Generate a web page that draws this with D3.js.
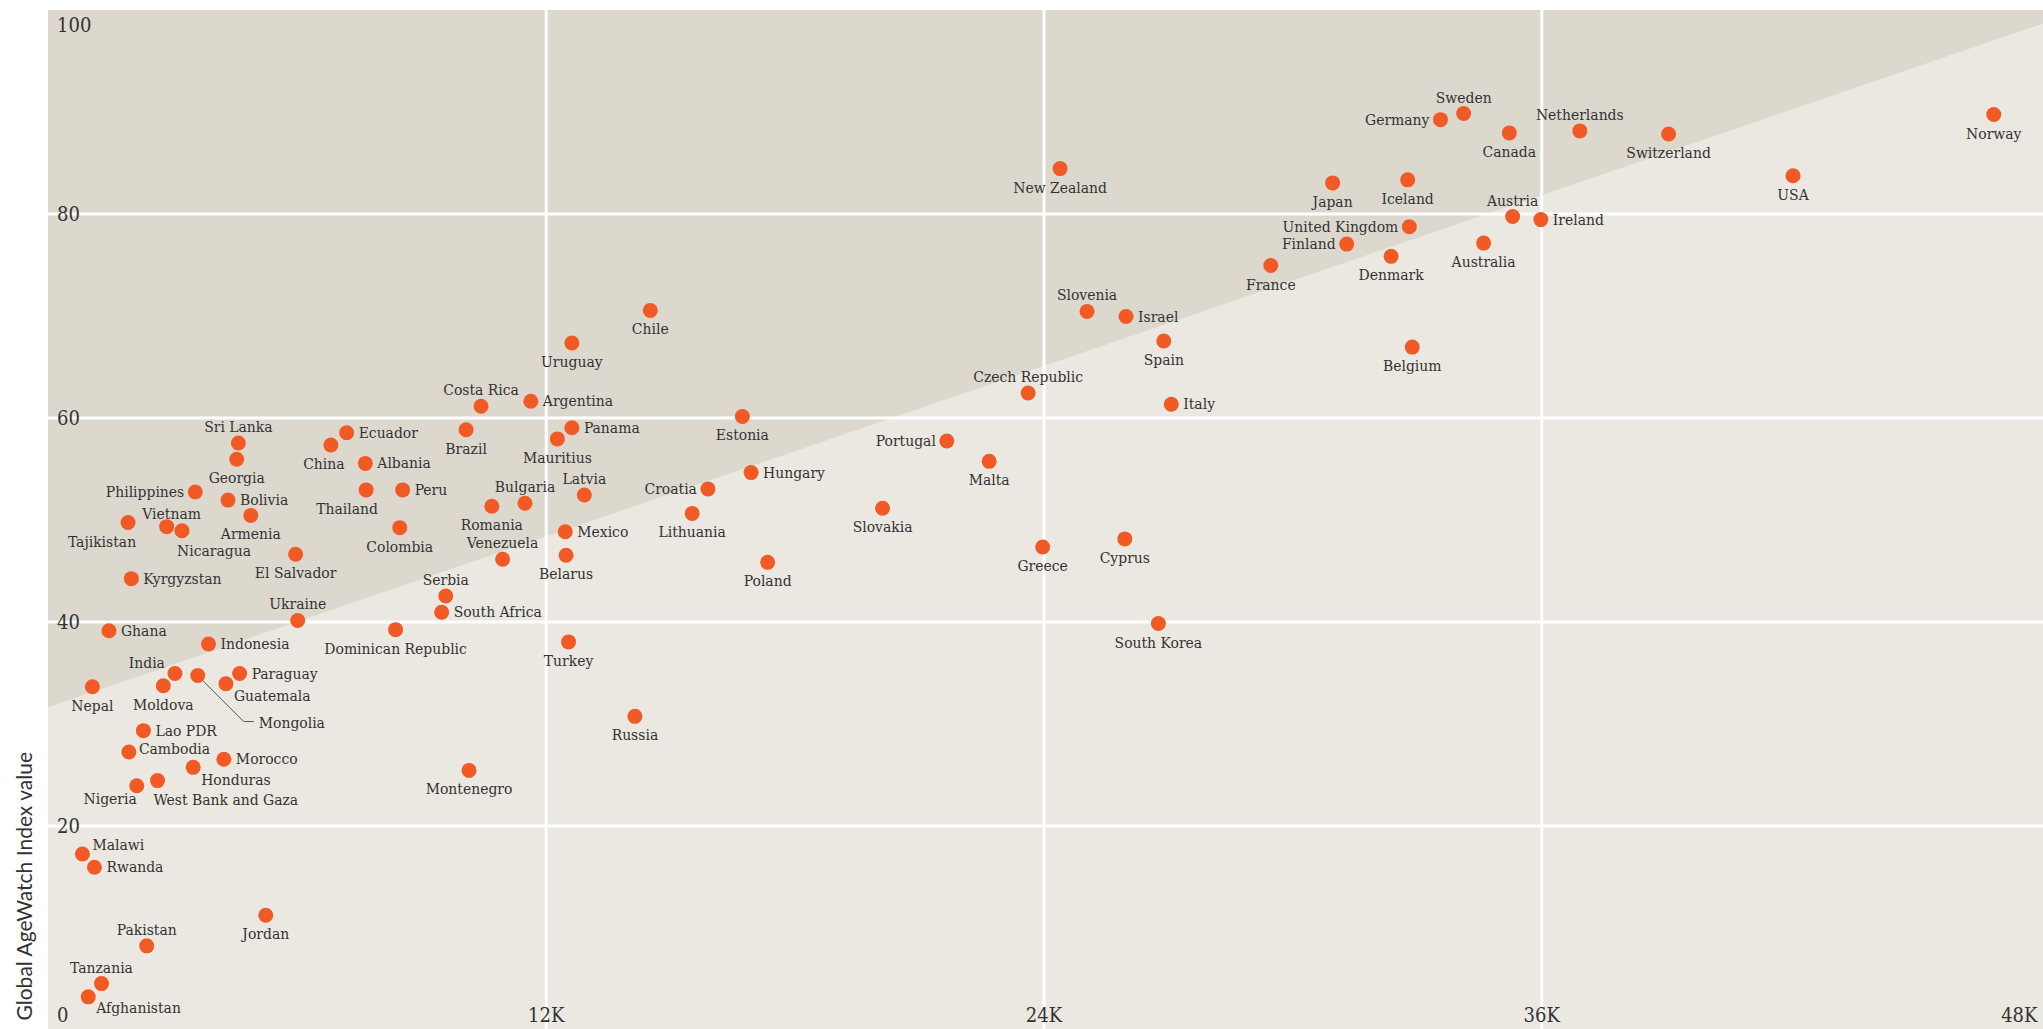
<!DOCTYPE html>
<html>
<head>
<meta charset="utf-8">
<script src="https://cdn.jsdelivr.net/npm/d3@7"></script>
<style>
  body { margin: 0; background: #fff; }
  svg { display: block; }
  .slab { font-family: "DejaVu Serif Condensed", "DejaVu Serif", serif; font-stretch: condensed; fill: #333; }
</style>
</head>
<body>
<svg></svg>
<script>
const countries = [
  'Norway', 'Sweden', 'Switzerland', 'Canada', 'Germany', 'Netherlands', 'Iceland', 'USA', 'Japan', 'New Zealand',
  'United Kingdom', 'Denmark', 'Austria', 'Finland', 'Ireland', 'Australia', 'France', 'Chile', 'Slovenia', 'Israel',
  'Spain', 'Uruguay', 'Belgium', 'Czech Republic', 'Argentina', 'Italy', 'Costa Rica', 'Estonia', 'Panama', 'Brazil',
  'Ecuador', 'Mauritius', 'Portugal', 'Sri Lanka', 'China', 'Georgia', 'Malta', 'Albania', 'Hungary', 'Croatia',
  'Thailand', 'Peru', 'Philippines', 'Latvia', 'Bolivia', 'Bulgaria', 'Romania', 'Slovakia', 'Lithuania', 'Armenia',
  'Tajikistan', 'Vietnam', 'Colombia', 'Nicaragua', 'Mexico', 'Cyprus', 'Greece', 'El Salvador', 'Belarus', 'Venezuela',
  'Poland', 'Kyrgyzstan', 'Serbia', 'South Africa', 'Ukraine', 'South Korea', 'Dominican Republic', 'Ghana', 'Turkey', 'Indonesia',
  'India', 'Paraguay', 'Mongolia', 'Guatemala', 'Moldova', 'Nepal', 'Russia', 'Lao PDR', 'Cambodia', 'Morocco',
  'Honduras', 'Montenegro', 'West Bank and Gaza', 'Nigeria', 'Malawi', 'Rwanda', 'Jordan', 'Pakistan', 'Tanzania', 'Afghanistan'
];

// GNI per capita (PPP $), x axis
const gdpPerCapita = [
  46910, 34130, 39070, 35230, 33570, 36930, 32780, 42070, 30970, 24400,
  32820, 32380, 35310, 31310, 35990, 34610, 29480, 14520, 25050, 25990,
  26900, 12630, 32890, 23630, 11640, 27080, 10440, 16740, 12630, 10080,
  7200, 12280, 21670, 4590, 6820, 4550, 22690, 7650, 16950, 15910,
  7670, 8550, 3550, 12930, 4340, 11500, 10700, 20120, 15530, 4890,
  1930, 2860, 8480, 3230, 12470, 25960, 23980, 5970, 12490, 10960,
  17350, 2010, 9590, 9490, 6020, 26770, 8380, 1470, 12550, 3870,
  3060, 4620, 3610, 4290, 2780, 1070, 14150, 2300, 1950, 4240,
  3500, 10150, 2640, 2140, 830, 1120, 5250, 2380, 1290, 970
];

// Global AgeWatch Index value, y axis
const indexValues = [
  89.7, 89.8, 87.8, 87.9, 89.2, 88.1, 83.3, 83.7, 83.0, 84.4,
  78.7, 75.8, 79.7, 77.0, 79.4, 77.1, 74.9, 70.5, 70.4, 69.9,
  67.5, 67.3, 66.9, 62.4, 61.6, 61.3, 61.1, 60.1, 59.0, 58.8,
  58.5, 57.9, 57.7, 57.5, 57.3, 55.9, 55.7, 55.5, 54.6, 53.0,
  52.9, 52.9, 52.7, 52.4, 51.9, 51.6, 51.3, 51.1, 50.6, 50.4,
  49.7, 49.3, 49.2, 48.9, 48.8, 48.1, 47.3, 46.6, 46.5, 46.1,
  45.8, 44.2, 42.5, 40.9, 40.1, 39.8, 39.2, 39.1, 38.0, 37.8,
  34.9, 34.9, 34.7, 33.9, 33.7, 33.6, 30.7, 29.3, 27.2, 26.5,
  25.7, 25.4, 24.4, 23.9, 17.2, 15.9, 11.2, 8.2, 4.5, 3.2
];

const xTicks = [12000, 24000, 36000, 48000];
const xTickLabels = ['12K', '24K', '36K', '48K'];
const yTicks = [0, 20, 40, 60, 80, 100];

// shaded band boundary
const trendGdp = [0, 48000];
const trendIndex = [31.6, 98.5];

// label placement (default: below the dot)
const labelsAbove = ['Sweden', 'Netherlands', 'Austria', 'Slovenia', 'Czech Republic', 'Costa Rica', 'Sri Lanka',
  'Bulgaria', 'Latvia', 'Vietnam', 'Venezuela', 'Serbia', 'Ukraine', 'Pakistan', 'Tanzania'];
const labelsRight = ['Ireland', 'Israel', 'Italy', 'Hungary', 'Argentina', 'Panama', 'Ecuador', 'Albania', 'Peru',
  'Bolivia', 'Mexico', 'Kyrgyzstan', 'South Africa', 'Ghana', 'Indonesia', 'Paraguay', 'Guatemala', 'Lao PDR',
  'Cambodia', 'Morocco', 'Honduras', 'West Bank and Gaza', 'Malawi', 'Rwanda', 'Afghanistan'];
const labelsLeft = ['Germany', 'United Kingdom', 'Finland', 'Portugal', 'Croatia', 'Philippines', 'India', 'Nigeria'];
const labelNudge = {
  'China': [-7, 0], 'Thailand': [-19, 0], 'Tajikistan': [-26, 0], 'Nicaragua': [32, 1], 'Vietnam': [5, 3],
  'India': [1, -11], 'Guatemala': [-4, 12], 'Honduras': [-4, 13], 'West Bank and Gaza': [-16, 19],
  'Nigeria': [11, 13], 'Afghanistan': [-4, 11], 'Cambodia': [-2, -3], 'Malawi': [-2, -9]
};

const width = 2043;
const height = 1029;
const plotLeft = 48;
const plotTop = 10;

const data = countries.map((name, i) => ({ name, gdp: gdpPerCapita[i], value: indexValues[i] }));

const svg = d3.select('svg')
  .attr('width', width)
  .attr('height', height);

const x = d3.scaleLinear().domain([0, 48000]).range([plotLeft, 2039]);
const y = d3.scaleLinear().domain([0, 100]).range([1029.5, 9.5]);

// background
svg.append('rect')
  .attr('x', plotLeft)
  .attr('y', plotTop)
  .attr('width', width - plotLeft)
  .attr('height', height - plotTop)
  .attr('fill', '#ebe8e1');

const slope = (trendIndex[1] - trendIndex[0]) / (trendGdp[1] - trendGdp[0]);
const trendAt = g => trendIndex[0] + slope * (g - trendGdp[0]);
const gdpEdge = x.invert(width);

svg.append('polygon')
  .attr('points', [
    [x(0), y(trendAt(0))],
    [x(gdpEdge), y(trendAt(gdpEdge))],
    [x(gdpEdge), plotTop],
    [x(0), plotTop]
  ].map(p => p.join(',')).join(' '))
  .attr('fill', '#dcd8ce');

// gridlines + tick labels
const gx = svg.append('g')
  .attr('transform', `translate(0,${height})`)
  .call(d3.axisBottom(x)
    .tickValues(xTicks)
    .tickSize(-(height - plotTop))
    .tickFormat((d, i) => xTickLabels[i]));
gx.select('.domain').remove();
gx.selectAll('.tick line')
  .attr('stroke', '#fff')
  .attr('stroke-width', 3)
  .filter(d => d === 48000).remove();
gx.selectAll('.tick text')
  .attr('class', 'slab')
  .attr('y', -7)
  .attr('dy', 0)
  .attr('font-size', 20)
  .attr('text-anchor', d => d === 48000 ? 'end' : 'middle')
  .attr('x', d => d === 48000 ? -2 : 0);

const gy = svg.append('g')
  .attr('transform', `translate(${plotLeft},0)`)
  .call(d3.axisLeft(y)
    .tickValues(yTicks)
    .tickSize(-(width - plotLeft)));
gy.select('.domain').remove();
gy.selectAll('.tick line')
  .attr('stroke', '#fff')
  .attr('stroke-width', 3)
  .filter(d => d === 0 || d === 100).remove();
gy.selectAll('.tick text')
  .attr('class', 'slab')
  .attr('x', 9)
  .attr('dy', 0)
  .attr('y', d => d === 100 ? 22 : d === 0 ? -8 : 7)
  .attr('font-size', 20)
  .attr('text-anchor', 'start');
svg.selectAll('.tick text').style('font-family', null);

// axis title
svg.append('text')
  .attr('transform', 'translate(32,752) rotate(-90)')
  .attr('text-anchor', 'end')
  .style('font-family', 'Lato, "Open Sans", sans-serif')
  .style('font-size', '21px')
  .attr('fill', '#333')
  .text('Global AgeWatch Index value');

// Mongolia leader line
const mongolia = data.find(d => d.name === 'Mongolia');
const mx = x(mongolia.gdp);
const my = y(mongolia.value);
svg.append('path')
  .attr('d', `M${mx},${my}L${mx + 46},${my + 46}H${mx + 56}`)
  .attr('fill', 'none')
  .attr('stroke', '#555')
  .attr('stroke-width', 1);

// dots
svg.append('g')
  .selectAll('circle')
  .data(data)
  .join('circle')
  .attr('cx', d => x(d.gdp))
  .attr('cy', d => y(d.value))
  .attr('r', 7.5)
  .attr('fill', '#f15a24');

const labelPos = d => {
  const cx = x(d.gdp);
  const cy = y(d.value);
  if (d.name === 'Mongolia') return { x: cx + 61, y: cy + 52, anchor: 'start' };
  const [dx, dy] = labelNudge[d.name] || [0, 0];
  if (labelsAbove.includes(d.name)) return { x: cx + dx, y: cy - 11 + dy, anchor: 'middle' };
  if (labelsRight.includes(d.name)) return { x: cx + 12 + dx, y: cy + 5 + dy, anchor: 'start' };
  if (labelsLeft.includes(d.name)) return { x: cx - 11 + dx, y: cy + 5 + dy, anchor: 'end' };
  return { x: cx + dx, y: cy + 24 + dy, anchor: 'middle' };
};

svg.append('g')
  .selectAll('text')
  .data(data)
  .join('text')
  .attr('class', 'slab')
  .attr('font-size', 15.5)
  .attr('x', d => labelPos(d).x)
  .attr('y', d => labelPos(d).y)
  .attr('text-anchor', d => labelPos(d).anchor)
  .text(d => d.name);
</script>
</body>
</html>
